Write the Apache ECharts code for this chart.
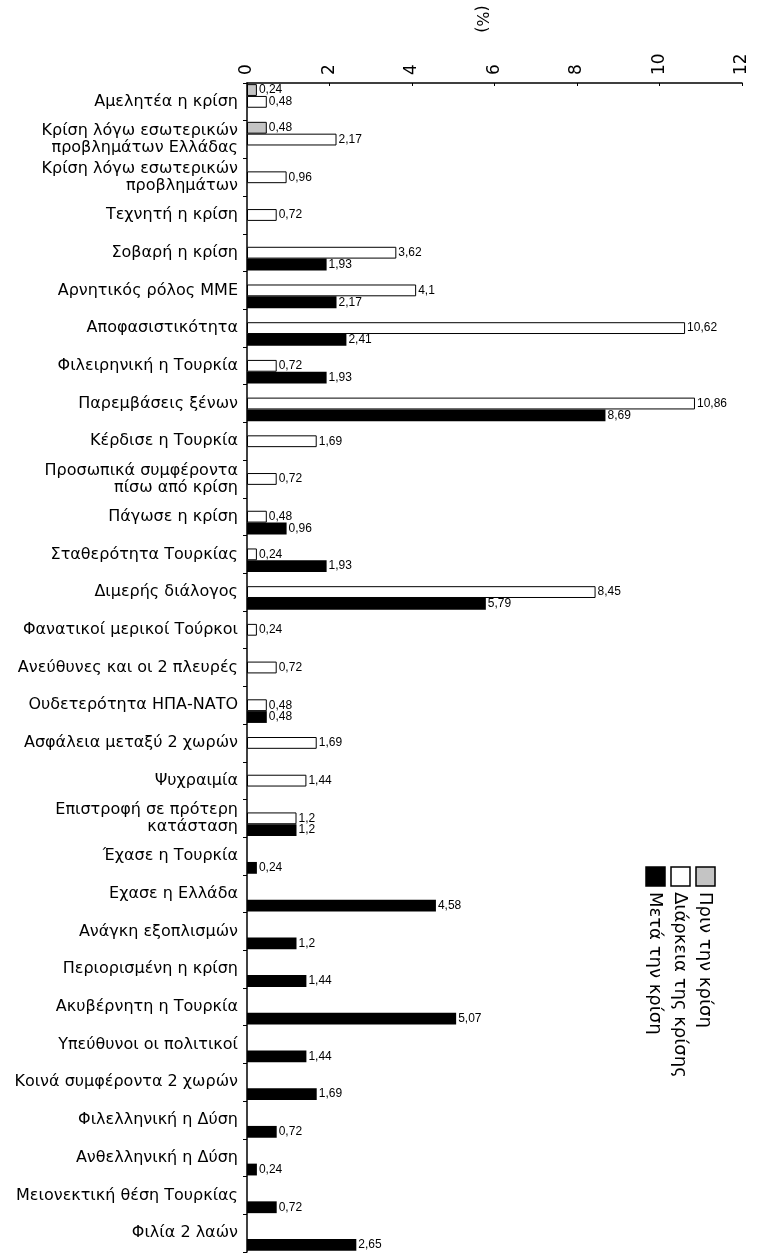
<!DOCTYPE html>
<html>
<head>
<meta http-equiv="Content-Type" content="text/html; charset=UTF-8"/>
<title></title>
<script src="https://cdn.jsdelivr.net/npm/echarts@6/dist/echarts.min.js" type="text/javascript"></script>
<style>
html, body { margin:0; padding:0; background:#fff; }
#placeholder { width:768px; height:1254px; }
</style>
</head>
<body>
<div id="placeholder"></div>
<script type="text/javascript">
// categories, top to bottom
var categories = [
    'Αμελητέα η κρίση',
    'Κρίση λόγω εσωτερικών\nπροβλημάτων Ελλάδας',
    'Κρίση λόγω εσωτερικών\nπροβλημάτων',
    'Τεχνητή η κρίση',
    'Σοβαρή η κρίση',
    'Αρνητικός ρόλος ΜΜΕ',
    'Αποφασιστικότητα',
    'Φιλειρηνική η Τουρκία',
    'Παρεμβάσεις ξένων',
    'Κέρδισε η Τουρκία',
    'Προσωπικά συμφέροντα\nπίσω από κρίση',
    'Πάγωσε η κρίση',
    'Σταθερότητα Τουρκίας',
    'Διμερής διάλογος',
    'Φανατικοί μερικοί Τούρκοι',
    'Ανεύθυνες και οι 2 πλευρές',
    'Ουδετερότητα ΗΠΑ-ΝΑΤΟ',
    'Ασφάλεια μεταξύ 2 χωρών',
    'Ψυχραιμία',
    'Επιστροφή σε πρότερη\nκατάσταση',
    'Έχασε η Τουρκία',
    'Εχασε η Ελλάδα',
    'Ανάγκη εξοπλισμών',
    'Περιορισμένη η κρίση',
    'Ακυβέρνητη η Τουρκία',
    'Υπεύθυνοι οι πολιτικοί',
    'Κοινά συμφέροντα 2 χωρών',
    'Φιλελληνική η Δύση',
    'Ανθελληνική η Δύση',
    'Μειονεκτική θέση Τουρκίας',
    'Φιλία 2 λαών'
];
var seriesNames = ['Πριν την κρίση', 'Διάρκεια της κρίσης', 'Μετά την κρίση'];
var xTicks = { min: 0, max: 12, interval: 2 };
var unitLabel = '(%)';

var before = [0.24, 0.48, null, null, null, null, null, null, null, null,
              null, null, null, null, null, null, null, null, null, null,
              null, null, null, null, null, null, null, null, null, null, null];
var during = [0.48, 2.17, 0.96, 0.72, 3.62, 4.1, 10.62, 0.72, 10.86, 1.69,
              0.72, 0.48, 0.24, 8.45, 0.24, 0.72, 0.48, 1.69, 1.44, 1.2,
              null, null, null, null, null, null, null, null, null, null, null];
var after  = [null, null, null, null, 1.93, 2.17, 2.41, 1.93, 8.69, null,
              null, 0.96, 1.93, 5.79, null, null, 0.48, null, null, 1.2,
              0.24, 4.58, 1.2, 1.44, 5.07, 1.44, 1.69, 0.72, 0.24, 0.72, 2.65];

var font = "'DejaVu Sans', 'Liberation Sans', sans-serif";
var smallFont = "'Liberation Sans', Arial, sans-serif";
var fills = ['#c4c4c4', '#ffffff', '#000000'];

var myChart = echarts.init(document.getElementById('placeholder'));

var barLabel = {
    show: true,
    position: 'right',
    distance: 2,
    fontSize: 12,
    fontFamily: smallFont,
    color: '#000',
    formatter: function (p) { return String(p.value).replace('.', ','); }
};

function barSeries(i, data) {
    return {
        name: seriesNames[i],
        type: 'bar',
        data: data,
        barGap: '0%',
        barCategoryGap: '6%',
        itemStyle: {
            color: fills[i],
            borderColor: '#000',
            borderWidth: i == 2 ? 0 : 1
        },
        label: barLabel
    };
}

// rotated legend, drawn as a group turned a quarter turn clockwise
var legendChildren = [];
for (var i = 0; i < seriesNames.length; i++) {
    var ly = i * 25;
    legendChildren.push({
        type: 'rect',
        shape: { x: 0, y: ly, width: 19, height: 19 },
        style: { fill: fills[i], stroke: '#000', lineWidth: 1.5 }
    });
    legendChildren.push({
        type: 'text',
        x: 25,
        y: ly + 10,
        style: {
            text: seriesNames[i],
            fontSize: 18,
            fontFamily: font,
            fill: '#000',
            verticalAlign: 'middle'
        }
    });
}

var option = {
    animation: false,
    backgroundColor: '#fff',
    textStyle: { fontFamily: font },
    grid: {
        left: 247,
        right: 26,
        top: 83,
        bottom: 2,
        containLabel: false
    },
    xAxis: {
        type: 'value',
        position: 'top',
        min: xTicks.min,
        max: xTicks.max,
        interval: xTicks.interval,
        axisLine: { show: true, lineStyle: { color: '#000', width: 1.5 } },
        axisTick: { show: true, inside: true, length: 3, lineStyle: { color: '#000' } },
        axisLabel: { rotate: -90, fontSize: 17, color: '#000', margin: 8, fontFamily: font },
        splitLine: { show: false }
    },
    yAxis: {
        type: 'category',
        data: categories,
        inverse: true,
        axisLine: { show: true, lineStyle: { color: '#000', width: 1.5 } },
        axisTick: { show: true, length: 4, lineStyle: { color: '#000' } },
        axisLabel: { fontSize: 16, color: '#000', margin: 9, lineHeight: 17, fontFamily: font }
    },
    series: [
        barSeries(0, before),
        barSeries(1, during),
        barSeries(2, after)
    ],
    graphic: [{
        type: 'text',
        x: 481,
        y: 19,
        rotation: -Math.PI / 2,
        style: {
            text: unitLabel,
            fontSize: 16,
            fontFamily: font,
            fill: '#000',
            align: 'center',
            verticalAlign: 'middle'
        }
    }, {
        type: 'group',
        x: 715,
        y: 867,
        rotation: -Math.PI / 2,
        children: legendChildren
    }]
};

if (option && typeof option === "object") {
    myChart.setOption(option, true);
}
</script>
</body>
</html>
